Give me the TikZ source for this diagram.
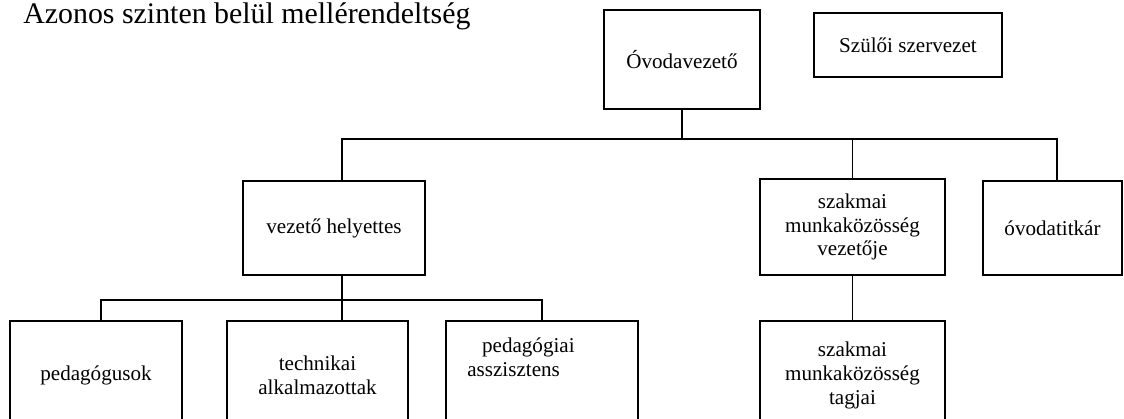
\documentclass[tikz,border=0pt]{standalone}
\usepackage{fontspec}
\setmainfont{Liberation Serif}
\usepackage{tikz}

\begin{document}
\begin{tikzpicture}[
  unit/.style={draw,line width=1pt,inner sep=2pt,align=center,
               font=\fontsize{12}{13.6}\selectfont},
  conn/.style={line width=1pt},
  lbl/.style={font=\fontsize{12}{13.6}\selectfont},
]
  \useasboundingbox (0,0) rectangle (22.48,8.36);
  \clip (0,0) rectangle (22.48,8.36);

  % --- title ---
  \node[anchor=base west,inner sep=0pt,font=\fontsize{17}{20}\selectfont]
    (title) at (0.46,7.90) {Azonos szinten belül mellérendeltség};

  % --- top level ---
  \node[unit,minimum width=3.12cm,minimum height=1.98cm] (ovv) at (13.64,7.17) {Óvodavezető};
  \node[unit,minimum width=3.76cm,minimum height=1.28cm] (szsz) at (18.16,7.46) {Szülői szervezet};

  % --- second level ---
  \node[unit,minimum width=3.64cm,minimum height=1.88cm] (vh) at ( 6.68,3.80) {vezető helyettes};
  \node[unit,minimum width=3.70cm,minimum height=1.92cm] (szv) at (17.05,3.82) {szakmai\\munkaközösség\\vezetője};
  \node[unit,minimum width=2.78cm,minimum height=1.88cm] (titk) at (21.05,3.80) {óvodatitkár};

  % --- third level ---
  \node[unit,minimum width=3.44cm,minimum height=2.18cm] (ped) at ( 1.92,0.85) {pedagógusok};
  \node[unit,minimum width=3.62cm,minimum height=2.18cm] (tech) at ( 6.35,0.85) {technikai\\alkalmazottak};
  \node[unit,minimum width=3.84cm,minimum height=2.18cm] (pasz) at (10.84,0.85) {};
  \node[lbl,align=left,anchor=west,inner sep=0pt] (pasztxt) at (9.34,1.22)
    {\hspace*{0.7em}pedagógiai\\asszisztens};
  \node[unit,minimum width=3.70cm,minimum height=2.18cm] (szt) at (17.05,0.85) {szakmai\\munkaközösség\\tagjai};

  % --- bus lines ---
  \coordinate (busa) at (0,5.58);
  \coordinate (busb) at (0,2.36);
  \coordinate (vhtop) at ([xshift=1.6mm]vh.north);
  \coordinate (vhbot) at ([xshift=1.6mm]vh.south);
  \coordinate (titktop) at ([xshift=0.9mm]titk.north);
  \coordinate (pedtop) at ([xshift=1mm]ped.north);

  \draw[conn] (ovv.south) -- (ovv.south |- busa);
  \draw[conn] (vhtop) |- (titktop |- busa) -- (titktop);
  \draw[conn] (szv.north |- busa) -- (szv.north);
  \draw[conn] (szv) -- (szt);

  \draw[conn] (vhbot) -- (vhbot |- tech.north);
  \draw[conn] (pedtop) |- (pasz.north |- busb) -- (pasz.north);

\end{tikzpicture}
\end{document}
